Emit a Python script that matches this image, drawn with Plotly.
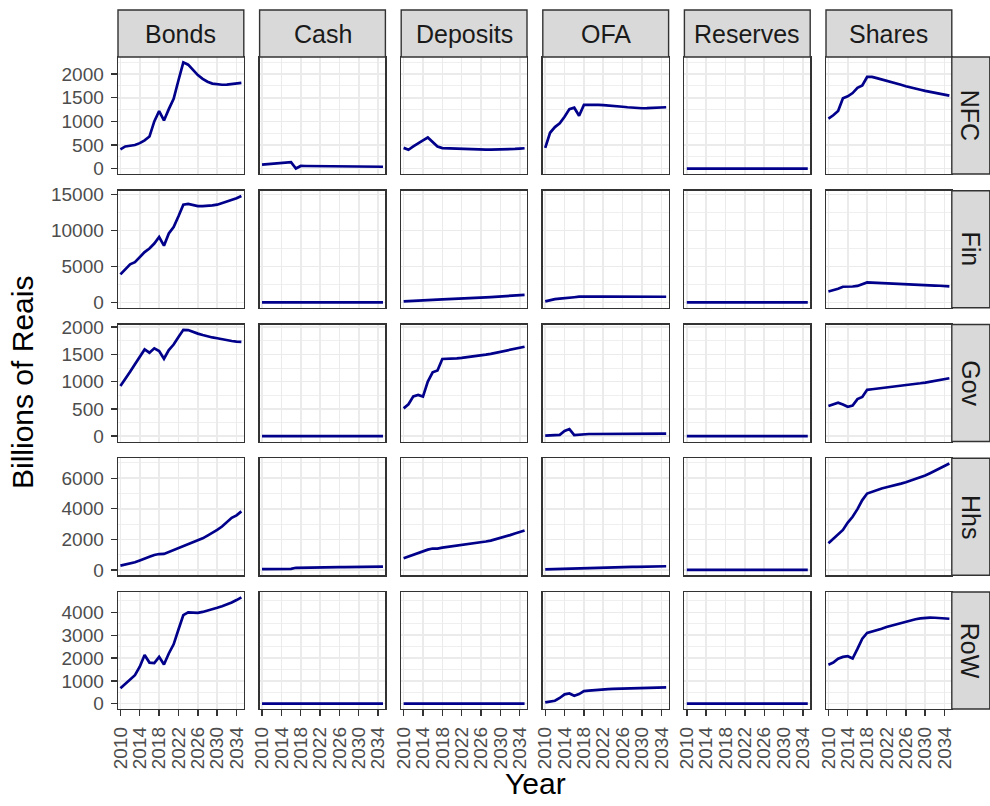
import plotly.graph_objects as go

# ---------------- data ----------------
YEARS = [2010, 2011, 2012, 2013, 2014, 2015, 2016, 2017, 2018, 2019, 2020, 2021, 2022,
         2023, 2024, 2025, 2026, 2027, 2028, 2029, 2030, 2031, 2032, 2033, 2034, 2035]
X_TICKS = [2010, 2014, 2018, 2022, 2026, 2030, 2034]
ASSETS = ["Bonds", "Cash", "Deposits", "OFA", "Reserves", "Shares"]
SECTORS = ["NFC", "Fin", "Gov", "Hhs", "RoW"]
Y_DTICK = [500, 5000, 500, 2000, 1000]

flat_zero = [0, 0, 0, 0, 0, 0, 0, 0, 0, 0, 0, 0, 0, 0, 0, 0, 0, 0, 0, 0, 0, 0, 0, 0, 0, 0]

# NFC
bonds_nfc = [410, 470, 485, 500, 540, 600, 680, 1000, 1220, 1020, 1260, 1480, 1870, 2250,
             2200, 2080, 1980, 1900, 1840, 1800, 1780, 1775, 1780, 1790, 1800, 1815]
cash_nfc = [85, 95, 105, 115, 122, 128, 138, 5, 58, 57, 56, 55, 54, 53, 52, 51, 50, 49, 48,
            47, 46, 45, 44, 43, 42, 41]
deposits_nfc = [440, 400, 470, 540, 600, 660, 570, 470, 435, 430, 425, 422, 418, 415, 412,
                410, 405, 404, 403, 403, 404, 407, 412, 418, 425, 432]
ofa_nfc = [440, 760, 880, 960, 1100, 1260, 1290, 1120, 1350, 1355, 1355, 1350, 1345, 1340,
           1330, 1320, 1310, 1300, 1290, 1283, 1278, 1280, 1285, 1290, 1295, 1300]
reserves_nfc = flat_zero
shares_nfc = [1060, 1130, 1220, 1490, 1530, 1600, 1710, 1760, 1940, 1940, 1915, 1890, 1862,
              1835, 1805, 1775, 1745, 1715, 1690, 1670, 1645, 1628, 1605, 1585, 1565, 1545]

# Fin
bonds_fin = [3900, 4600, 5300, 5600, 6300, 7000, 7500, 8200, 9100, 7900, 9600, 10500, 12000,
             13600, 13700, 13500, 13400, 13400, 13400, 13500, 13600, 13800, 14000, 14200,
             14500, 14800]
cash_fin = flat_zero
deposits_fin = [150, 200, 250, 300, 340, 370, 380, 400, 420, 440, 470, 500, 530, 560, 590,
                620, 650, 690, 730, 770, 810, 860, 910, 960, 1010, 1060]
ofa_fin = [150, 350, 450, 520, 560, 620, 720, 800, 830, 830, 820, 815, 812, 810, 808, 806,
           804, 802, 800, 798, 796, 795, 794, 793, 792, 792]
reserves_fin = flat_zero
shares_fin = [1530, 1700, 1900, 2180, 2180, 2220, 2300, 2500, 2780, 2760, 2720, 2690, 2650,
              2620, 2590, 2560, 2530, 2500, 2470, 2440, 2410, 2380, 2350, 2320, 2280, 2240]

# Gov
bonds_gov = [920, 1040, 1180, 1320, 1460, 1590, 1530, 1610, 1560, 1420, 1580, 1680, 1820,
             1950, 1945, 1910, 1880, 1855, 1830, 1810, 1795, 1775, 1760, 1745, 1735, 1730]
cash_gov = flat_zero
deposits_gov = [510, 585, 730, 755, 725, 1000, 1170, 1205, 1415, 1415, 1420, 1425, 1435,
                1445, 1455, 1468, 1480, 1495, 1510, 1530, 1550, 1565, 1580, 1600, 1620, 1640]
ofa_gov = [10, 12, 15, 25, 95, 130, 20, 30, 38, 40, 40, 41, 41, 42, 42, 43, 43, 44, 44, 45,
           45, 46, 46, 47, 47, 48]
reserves_gov = flat_zero
shares_gov = [555, 590, 615, 580, 540, 560, 680, 720, 850, 860, 870, 880, 890, 900, 910, 922,
              933, 945, 957, 970, 983, 997, 1012, 1028, 1045, 1062]

# Hhs
bonds_hhs = [280, 350, 430, 500, 620, 760, 860, 980, 1040, 1050, 1180, 1310, 1450, 1580,
             1700, 1810, 1920, 2070, 2250, 2410, 2620, 2840, 3120, 3410, 3570, 3830]
cash_hhs = [55, 58, 60, 62, 65, 68, 75, 140, 150, 155, 160, 163, 166, 170, 173, 177, 180,
            184, 188, 192, 196, 200, 205, 210, 215, 220]
deposits_hhs = [760, 880, 1000, 1130, 1260, 1330, 1400, 1400, 1460, 1500, 1540, 1580, 1620,
                1660, 1700, 1750, 1800, 1860, 1920, 2000, 2080, 2180, 2280, 2390, 2500, 2580]
ofa_hhs = [40, 50, 60, 70, 80, 95, 110, 140, 150, 155, 160, 165, 170, 175, 180, 185, 190,
           195, 200, 205, 210, 215, 222, 228, 234, 240]
reserves_hhs = flat_zero
shares_hhs = [1750, 2050, 2380, 2620, 3100, 3480, 3980, 4570, 5000, 5120, 5230, 5330, 5410,
              5480, 5560, 5650, 5740, 5840, 5950, 6060, 6180, 6330, 6490, 6650, 6800, 6960]

# RoW
bonds_row = [680, 860, 1050, 1250, 1620, 2130, 1800, 1780, 2050, 1720, 2200, 2600, 3250,
             3880, 4000, 3980, 3980, 4020, 4070, 4130, 4200, 4270, 4340, 4430, 4540, 4660]
cash_row = flat_zero
deposits_row = flat_zero
ofa_row = [60, 110, 130, 250, 410, 450, 350, 420, 550, 570, 595, 610, 625, 638, 648, 657,
           667, 677, 686, 694, 700, 705, 709, 712, 714, 715]
reserves_row = flat_zero
shares_row = [1710, 1800, 1970, 2050, 2080, 1980, 2400, 2850, 3100, 3150, 3210, 3280, 3360,
              3420, 3480, 3540, 3600, 3650, 3700, 3740, 3765, 3770, 3765, 3750, 3735, 3720]

GRID = [
    [bonds_nfc, cash_nfc, deposits_nfc, ofa_nfc, reserves_nfc, shares_nfc],
    [bonds_fin, cash_fin, deposits_fin, ofa_fin, reserves_fin, shares_fin],
    [bonds_gov, cash_gov, deposits_gov, ofa_gov, reserves_gov, shares_gov],
    [bonds_hhs, cash_hhs, deposits_hhs, ofa_hhs, reserves_hhs, shares_hhs],
    [bonds_row, cash_row, deposits_row, ofa_row, reserves_row, shares_row],
]

# ---------------- layout geometry (pixels) ----------------
W, H = 990, 806
COL_LEFT0, COL_PITCH, COL_W = 118.0, 141.6, 125.8
ROW_TOP0, ROW_PITCH, ROW_H = 57.0, 133.75, 117.0
STRIP_TOP = 10.0
STRIP_RIGHT_W = 38.0

LINE_COLOR = "#00008B"
BORDER = "#333333"
GRIDC = "#EBEBEB"
FONT = "Liberation Sans, Arial, sans-serif"

fig = go.Figure()
layout = dict(
    width=W, height=H, margin=dict(l=0, r=0, t=0, b=0, autoexpand=False),
    paper_bgcolor="white", plot_bgcolor="white", showlegend=False,
    font=dict(family=FONT), hovermode=False,
)
shapes, annotations = [], []


def fx(px):
    return px / W


def fy(py):
    return 1 - py / H


x_lo = min(YEARS) - 0.02 * (max(YEARS) - min(YEARS))
x_hi = max(YEARS) + 0.02 * (max(YEARS) - min(YEARS))

for i, sector in enumerate(SECTORS):
    row_vals = [v for series in GRID[i] for v in series]
    lo, hi = min(row_vals), max(row_vals)
    pad = 0.05 * (hi - lo)
    yr = [lo - pad, hi + pad]
    top = ROW_TOP0 + i * ROW_PITCH
    bot = top + ROW_H
    for j, asset in enumerate(ASSETS):
        n = i * len(ASSETS) + j + 1
        left = COL_LEFT0 + j * COL_PITCH
        right = left + COL_W
        xa = "xaxis" if n == 1 else f"xaxis{n}"
        ya = "yaxis" if n == 1 else f"yaxis{n}"
        xr = "x" if n == 1 else f"x{n}"
        yrf = "y" if n == 1 else f"y{n}"
        bottom_row = i == len(SECTORS) - 1
        left_col = j == 0
        layout[xa] = dict(
            domain=[fx(left), fx(right)], anchor=yrf, range=[x_lo, x_hi],
            automargin=False,
            tickmode="array", tickvals=X_TICKS, ticktext=[str(t) for t in X_TICKS],
            showgrid=True, gridcolor=GRIDC, gridwidth=1.6, zeroline=False,
            showline=True, mirror=True, linecolor=BORDER, linewidth=1.4,
            ticks="outside" if bottom_row else "", ticklen=6, tickwidth=1.4,
            tickcolor=BORDER, showticklabels=bottom_row, tickangle=-90,
            tickfont=dict(size=19, color="#4D4D4D", family=FONT),
            ticklabelstandoff=3,
        )
        layout[ya] = dict(
            domain=[fy(bot), fy(top)], anchor=xr, range=yr,
            automargin=False,
            tickmode="linear", tick0=0, dtick=Y_DTICK[i], tickformat="d",
            showgrid=True, gridcolor=GRIDC, gridwidth=1.6, zeroline=False,
            minor=dict(tickmode="linear", tick0=0, dtick=Y_DTICK[i] / 2,
                       showgrid=True, gridcolor=GRIDC, gridwidth=0.8, ticks=""),
            showline=True, mirror=True, linecolor=BORDER, linewidth=1.4,
            ticks="outside" if left_col else "", ticklen=6, tickwidth=1.4,
            tickcolor=BORDER, showticklabels=left_col,
            tickfont=dict(size=19, color="#4D4D4D", family=FONT),
            ticklabelstandoff=3,
        )
        fig.add_trace(go.Scatter(
            x=YEARS, y=GRID[i][j], xaxis=xr, yaxis=yrf, mode="lines",
            line=dict(color=LINE_COLOR, width=2.7), hoverinfo="skip",
        ))
        if i == 0:
            shapes.append(dict(type="rect", xref="paper", yref="paper",
                               x0=fx(left), x1=fx(right), y0=fy(top), y1=fy(STRIP_TOP),
                               fillcolor="#D9D9D9", line=dict(color=BORDER, width=1.4),
                               layer="above"))
            annotations.append(dict(text=asset, xref="paper", yref="paper",
                                    x=fx((left + right) / 2), y=fy((STRIP_TOP + top) / 2),
                                    showarrow=False, xanchor="center", yanchor="middle",
                                    font=dict(size=25, color="#1A1A1A", family=FONT)))
    # right strip
    rl = COL_LEFT0 + (len(ASSETS) - 1) * COL_PITCH + COL_W
    shapes.append(dict(type="rect", xref="paper", yref="paper",
                       x0=fx(rl), x1=fx(rl + STRIP_RIGHT_W), y0=fy(bot), y1=fy(top),
                       fillcolor="#D9D9D9", line=dict(color=BORDER, width=1.4),
                       layer="above"))
    annotations.append(dict(text=sector, xref="paper", yref="paper",
                            x=fx(rl + STRIP_RIGHT_W / 2), y=fy((top + bot) / 2),
                            showarrow=False, textangle=90, xanchor="center",
                            yanchor="middle",
                            font=dict(size=25, color="#1A1A1A", family=FONT)))

annotations.append(dict(text="Billions of Reais", xref="paper", yref="paper",
                        x=fx(22), y=fy(383), showarrow=False, textangle=-90,
                        xanchor="center", yanchor="middle",
                        font=dict(size=30, color="black", family=FONT)))
annotations.append(dict(text="Year", xref="paper", yref="paper",
                        x=fx(535), y=fy(783), showarrow=False,
                        xanchor="center", yanchor="middle",
                        font=dict(size=30, color="black", family=FONT)))

layout["shapes"] = shapes
layout["annotations"] = annotations
fig.update_layout(**layout)
fig.write_html(
    "out.html",
    config={"displayModeBar": False, "staticPlot": True},
    post_script="document.body.style.margin='0';document.body.style.overflow='hidden';",
)
